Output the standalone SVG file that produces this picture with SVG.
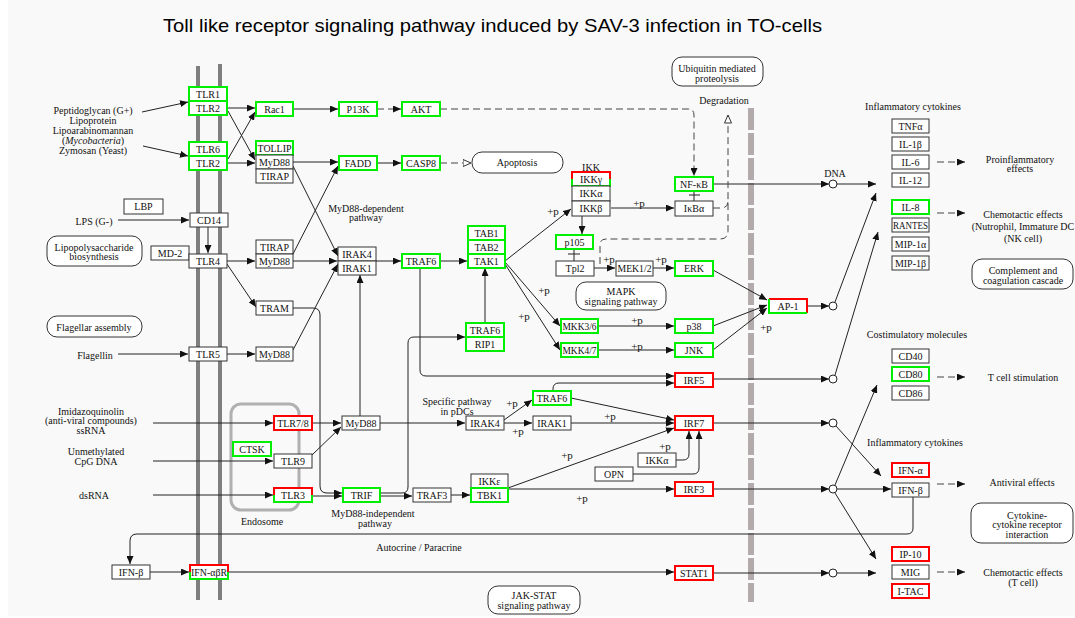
<svg xmlns="http://www.w3.org/2000/svg" width="1075" height="618" viewBox="0 0 1075 618">
<style>
  .t{font-family:"Liberation Serif",serif;font-size:10px;text-anchor:middle;fill:#111}
  .pl{font-family:"Liberation Serif",serif;font-size:11px;text-anchor:middle;fill:#111}
  .title{font-family:"Liberation Sans",Arial,sans-serif;font-size:19px;fill:#000}
  rect.n{fill:#fff;stroke:#333;stroke-width:1}
  rect.g{fill:#fff;stroke:#00ee00;stroke-width:2}
  rect.r{fill:#fff;stroke:#ff0000;stroke-width:2}
  rect.w{fill:#fff;stroke:none}
  .sr{fill:none;stroke:#ff0000;stroke-width:2}
  .sg{fill:none;stroke:#00ee00;stroke-width:2}
  rect.m{fill:#fff;stroke:#333;stroke-width:1}
  .e{fill:none;stroke:#222;stroke-width:1}
  .d{fill:none;stroke:#444;stroke-width:1;stroke-dasharray:7 4}
  .c{fill:#fff;stroke:#222;stroke-width:1}
</style>
<defs>
  <marker id="a" viewBox="0 0 8 7" refX="8" refY="3.5" markerWidth="8" markerHeight="7" markerUnits="userSpaceOnUse" orient="auto">
    <path d="M0,0L8,3.5L0,7z" fill="#111"/>
  </marker>
  <marker id="o" viewBox="0 0 9 8" refX="8.5" refY="4" markerWidth="9" markerHeight="8" markerUnits="userSpaceOnUse" orient="auto">
    <path d="M0.5,0.5L8.5,4L0.5,7.5z" fill="#fff" stroke="#333" stroke-width="1"/>
  </marker>
</defs>

<rect x="0" y="0" width="1075" height="618" fill="#fff"/>
<rect x="8" y="0" width="1067" height="616" fill="#f9f9f9"/>

<text class="title" x="163" y="32" textLength="659" lengthAdjust="spacingAndGlyphs">Toll like receptor signaling pathway induced by SAV-3 infection in TO-cells</text>

<!-- plasma membrane -->
<g id="membrane">
  <line x1="198" y1="66" x2="198" y2="600" stroke="#7f7f7f" stroke-width="4"/>
  <line x1="220" y1="64" x2="220" y2="600" stroke="#7f7f7f" stroke-width="4"/>
</g>
<!-- nuclear envelope -->
<line id="nucleus" x1="751" y1="108" x2="751" y2="602" stroke="#b3abab" stroke-width="6" stroke-dasharray="22 3"/>

<!-- endosome compartment -->
<g id="endosome">
  <rect x="231" y="404" width="68" height="106" rx="10" fill="none" stroke="#b0b0b0" stroke-width="3"/>
  <text class="t" x="262" y="525">Endosome</text>
</g>

<!-- free labels -->
<g id="labels">
  <text class="t" x="93" y="113.5">Peptidoglycan (G+)</text>
  <text class="t" x="93" y="123.5">Lipoprotein</text>
  <text class="t" x="93" y="133.5">Lipoarabinomannan</text>
  <text class="t" x="93" y="143.5">(<tspan font-style="italic">Mycobacteria</tspan>)</text>
  <text class="t" x="93" y="153.5">Zymosan (Yeast)</text>
  <text class="t" x="94" y="225">LPS (G-)</text>
  <text class="t" x="95" y="359">Flagellin</text>
  <text class="t" x="91" y="414.5">Imidazoquinolin</text>
  <text class="t" x="91" y="424">(anti-viral compounds)</text>
  <text class="t" x="91" y="434">ssRNA</text>
  <text class="t" x="96" y="454.5">Unmethylated</text>
  <text class="t" x="96" y="465">CpG DNA</text>
  <text class="t" x="94" y="498.5">dsRNA</text>
  <text class="t" x="366" y="211.5">MyD88-dependent</text>
  <text class="t" x="366" y="221">pathway</text>
  <text class="t" x="373" y="517">MyD88-independent</text>
  <text class="t" x="375" y="527">pathway</text>
  <text class="t" x="457" y="405">Specific pathway</text>
  <text class="t" x="457" y="415">in pDCs</text>
  <text class="t" x="419" y="550.5">Autocrine / Paracrine</text>
  <text class="t" x="591" y="170.5">IKK</text>
  <text class="t" x="835" y="177">DNA</text>
  <text class="t" x="724" y="104">Degradation</text>
  <text class="t" x="913" y="109.5">Inflammatory cytokines</text>
  <text class="t" x="915" y="446">Inflammatory cytokines</text>
  <text class="t" x="917" y="337.5">Costimulatory molecules</text>
  <text class="t" x="1020" y="162.5">Proinflammatory</text>
  <text class="t" x="1020" y="172">effects</text>
  <text class="t" x="1023" y="217.5">Chemotactic effects</text>
  <text class="t" x="1023" y="229.5">(Nutrophil, Immature DC</text>
  <text class="t" x="1023" y="241.5">(NK cell)</text>
  <text class="t" x="1023" y="381">T cell stimulation</text>
  <text class="t" x="1022" y="486">Antiviral effects</text>
  <text class="t" x="1023" y="576">Chemotactic effects</text>
  <text class="t" x="1023" y="586">(T cell)</text>
  <!-- phosphorylation marks -->
  <text class="pl" x="553" y="215">+p</text>
  <text class="pl" x="639" y="207">+p</text>
  <text class="pl" x="609" y="263">+p</text>
  <text class="pl" x="661" y="263">+p</text>
  <text class="pl" x="544" y="294">+p</text>
  <text class="pl" x="524" y="320">+p</text>
  <text class="pl" x="637" y="324">+p</text>
  <text class="pl" x="637" y="350">+p</text>
  <text class="pl" x="766" y="331">+p</text>
  <text class="pl" x="512" y="407">+p</text>
  <text class="pl" x="518" y="435">+p</text>
  <text class="pl" x="610" y="420">+p</text>
  <text class="pl" x="567" y="459">+p</text>
  <text class="pl" x="582" y="502">+p</text>
  <text class="pl" x="665" y="450">+p</text>
</g>

<!-- pathway map links -->
<g id="maps">
  <g id="map-ubiquitin"><rect class="m" x="672" y="57" width="91" height="29" rx="10"/><text class="t" x="717" y="71.5">Ubiquitin mediated</text><text class="t" x="717" y="81.5">proteolysis</text></g>
  <g id="map-apoptosis"><rect class="m" x="472" y="152" width="91" height="21" rx="10"/><text class="t" x="517" y="166">Apoptosis</text></g>
  <g id="map-mapk"><rect class="m" x="576" y="282" width="90" height="28" rx="10"/><text class="t" x="621" y="294.5">MAPK</text><text class="t" x="621" y="304.5">signaling pathway</text></g>
  <g id="map-jakstat"><rect class="m" x="488" y="586" width="92" height="28" rx="10"/><text class="t" x="534" y="598.5">JAK-STAT</text><text class="t" x="534" y="609">signaling pathway</text></g>
  <g id="map-lps"><rect class="m" x="47" y="236" width="95" height="30" rx="10"/><text class="t" x="94" y="251">Lipopolysaccharide</text><text class="t" x="94" y="260">biosynthesis</text></g>
  <g id="map-flagellar"><rect class="m" x="47" y="316" width="95" height="21" rx="10"/><text class="t" x="94" y="330.5">Flagellar assembly</text></g>
  <g id="map-complement"><rect class="m" x="972" y="259" width="101" height="30" rx="10"/><text class="t" x="1023" y="273.5">Complement and</text><text class="t" x="1023" y="283.5">coagulation cascade</text></g>
  <g id="map-cytokine"><rect class="m" x="971" y="503" width="102" height="40" rx="10"/><text class="t" x="1027" y="518.5">Cytokine-</text><text class="t" x="1027" y="528">cytokine receptor</text><text class="t" x="1027" y="537.5">interaction</text></g>
</g>

<!-- connectors -->
<g id="edges">
  <g class="e" marker-end="url(#a)">
    <path d="M142,112L188,102"/>
    <path d="M143,146L188,156"/>
    <path d="M118,220H189"/>
    <path d="M208,227V253"/>
    <path d="M227,108H255"/>
    <path d="M228,111L255,160"/>
    <path d="M227,163H255"/>
    <path d="M228,159L255,112"/>
    <path d="M293,109H338"/>
    <path d="M293,162H338"/>
    <path d="M377,163H401"/>
    <path d="M293,166L338,256"/>
    <path d="M293,254L338,166"/>
    <path d="M227,261H255"/>
    <path d="M293,261H337"/>
    <path d="M227,264L256,307"/>
    <path d="M293,308H313Q320,308 320,315V486Q320,493 327,493H342"/>
    <path d="M118,354H188"/>
    <path d="M227,354H255"/>
    <path d="M293,350L338,264"/>
    <path d="M376,261H401"/>
    <path d="M440,261H467"/>
    <path d="M505,261L571,209"/>
    <path d="M505,262L560,326"/>
    <path d="M505,264L560,350"/>
    <path d="M611,208H674"/>
    <path d="M582,216V234"/>
    <path d="M594,268H615"/>
    <path d="M653,268H674"/>
    <path d="M598,326H674"/>
    <path d="M598,350H674"/>
    <path d="M713,270L767,300"/>
    <path d="M713,326L767,305"/>
    <path d="M713,350L767,308"/>
    <path d="M485,323V268"/>
    <path d="M420,268V370Q420,376 426,376H674"/>
    <path d="M380,493H402Q408,493 408,487V343Q408,337 414,337H465"/>
    <path d="M380,496H412"/>
    <path d="M451,495H470"/>
    <path d="M508,489H674"/>
    <path d="M508,488L674,428"/>
    <path d="M153,423H273"/>
    <path d="M153,461H273"/>
    <path d="M153,495H273"/>
    <path d="M312,423H341"/>
    <path d="M312,455L341,427"/>
    <path d="M312,496H342"/>
    <path d="M360,416V275"/>
    <path d="M380,423H465"/>
    <path d="M504,420L532,400"/>
    <path d="M504,423H532"/>
    <path d="M571,423H674"/>
    <path d="M571,398L674,420"/>
    <path d="M553,391V389Q553,383 559,383H674"/>
    <path d="M676,460H683Q689,460 689,454V431"/>
    <path d="M633,474H693Q699,474 699,468V431"/>
    <path d="M713,184H829"/>
    <path d="M837,184H876"/>
    <path d="M807,306H829"/>
    <path d="M835,302L876,193"/>
    <path d="M713,379H829"/>
    <path d="M835,375L878,232"/>
    <path d="M713,423H829"/>
    <path d="M836,426L881,476"/>
    <path d="M713,489H829"/>
    <path d="M837,489H891"/>
    <path d="M835,493L876,559"/>
    <path d="M835,485L877,385"/>
    <path d="M228,572H674"/>
    <path d="M713,573H829"/>
    <path d="M837,573H876"/>
    <path d="M913,497V528Q913,534 907,534H137Q130,534 130,541V564"/>
    <path d="M150,572H189"/>
  </g>
  <g class="d" marker-end="url(#a)">
    <path d="M377,109H401"/>
    <path d="M440,109H688Q694,109 694,115V176"/>
    <path d="M937,162H965"/>
    <path d="M937,213H965"/>
    <path d="M937,377H965"/>
    <path d="M937,484H965"/>
    <path d="M937,572H965"/>
  </g>
  <g class="d" marker-end="url(#o)">
    <path d="M440,163H471"/>
    <path d="M600,264V245Q600,239 606,239H720Q728,239 728,231V115"/>
  </g>
  <path class="d" d="M713,208H721Q728,208 728,201"/>
  <!-- binding / inhibition bars -->
  <path class="e" d="M694,191V201M689,195H700"/>
  <path class="e" d="M574,249V261M568,254H580"/>
  <!-- transcription points -->
  <circle class="c" cx="833" cy="184" r="4"/>
  <circle class="c" cx="833" cy="306" r="4"/>
  <circle class="c" cx="833" cy="379" r="4"/>
  <circle class="c" cx="833" cy="423" r="4"/>
  <circle class="c" cx="833" cy="489" r="4"/>
  <circle class="c" cx="833" cy="573" r="4"/>
</g>

<!-- gene product nodes -->
<g id="nodes">
  <g id="tlr1"><rect class="g" x="189" y="87" width="38" height="14"/><text class="t" x="208" y="97.5">TLR1</text></g>
  <g id="tlr2a"><rect class="g" x="189" y="101" width="38" height="14"/><text class="t" x="208" y="111.5">TLR2</text></g>
  <g id="tlr6"><rect class="g" x="189" y="142" width="38" height="14"/><text class="t" x="208" y="152.5">TLR6</text></g>
  <g id="tlr2b"><rect class="g" x="189" y="156" width="38" height="14"/><text class="t" x="208" y="166.5">TLR2</text></g>
  <g id="cd14"><rect class="n" x="190" y="213" width="38" height="14"/><text class="t" x="209" y="223.5">CD14</text></g>
  <g id="lbp"><rect class="n" x="124" y="199" width="39" height="15"/><text class="t" x="143.5" y="210">LBP</text></g>
  <g id="md2"><rect class="n" x="151" y="246" width="38" height="14"/><text class="t" x="170" y="256.5">MD-2</text></g>
  <g id="tlr4"><rect class="n" x="189" y="254" width="38" height="14"/><text class="t" x="208" y="264.5">TLR4</text></g>
  <g id="tlr5"><rect class="n" x="189" y="347" width="38" height="14"/><text class="t" x="208" y="357.5">TLR5</text></g>
  <g id="rac1"><rect class="g" x="256" y="102" width="37" height="14"/><text class="t" x="274.5" y="112.5">Rac1</text></g>
  <g id="pi3k"><rect class="g" x="339" y="102" width="38" height="14"/><text class="t" x="358" y="112.5">P13K</text></g>
  <g id="akt"><rect class="g" x="402" y="102" width="38" height="14"/><text class="t" x="421" y="112.5">AKT</text></g>
  <g id="tollip"><rect class="g" x="256" y="141" width="37" height="14"/><text class="t" x="274.5" y="151.5" textLength="34" lengthAdjust="spacingAndGlyphs">TOLLIP</text></g>
  <g id="myd88a"><rect class="n" x="256" y="155" width="37" height="14"/><text class="t" x="274.5" y="165.5">MyD88</text></g>
  <g id="tirapa"><rect class="n" x="256" y="169" width="37" height="14"/><text class="t" x="274.5" y="179.5">TIRAP</text></g>
  <g id="fadd"><rect class="g" x="339" y="156" width="38" height="14"/><text class="t" x="358" y="166.5">FADD</text></g>
  <g id="casp8"><rect class="g" x="402" y="156" width="38" height="14"/><text class="t" x="421" y="166.5">CASP8</text></g>
  <g id="tirapb"><rect class="n" x="256" y="240" width="37" height="14"/><text class="t" x="274.5" y="250.5">TIRAP</text></g>
  <g id="myd88b"><rect class="n" x="256" y="254" width="37" height="14"/><text class="t" x="274.5" y="264.5">MyD88</text></g>
  <g id="tram"><rect class="n" x="256" y="301" width="37" height="14"/><text class="t" x="274.5" y="311.5">TRAM</text></g>
  <g id="myd88c"><rect class="n" x="256" y="347" width="37" height="14"/><text class="t" x="274.5" y="357.5">MyD88</text></g>
  <g id="irak4"><rect class="n" x="338" y="247" width="38" height="14"/><text class="t" x="357" y="257.5">IRAK4</text></g>
  <g id="irak1"><rect class="n" x="338" y="261" width="38" height="14"/><text class="t" x="357" y="271.5">IRAK1</text></g>
  <g id="traf6a"><rect class="g" x="402" y="254" width="38" height="14"/><text class="t" x="421" y="264.5">TRAF6</text></g>
  <g id="tab1"><rect class="g" x="468" y="226" width="37" height="14"/><text class="t" x="486.5" y="236.5">TAB1</text></g>
  <g id="tab2"><rect class="g" x="468" y="240" width="37" height="14"/><text class="t" x="486.5" y="250.5">TAB2</text></g>
  <g id="tak1"><rect class="g" x="468" y="254" width="37" height="14"/><text class="t" x="486.5" y="264.5">TAK1</text></g>
  <g id="traf6b"><rect class="g" x="466" y="323" width="38" height="14"/><text class="t" x="485" y="333.5">TRAF6</text></g>
  <g id="rip1"><rect class="g" x="466" y="337" width="38" height="14"/><text class="t" x="485" y="347.5">RIP1</text></g>
  <g id="ikkg"><rect class="w" x="572" y="172" width="38" height="14"/><path class="sr" d="M572,179V172H610V179"/><path class="sg" d="M572,179V186H610V179"/><text class="t" x="591" y="182.5">IKKγ</text></g>
  <g id="ikka"><rect class="n" x="572" y="186" width="38" height="15"/><text class="t" x="591" y="197">IKKα</text></g>
  <g id="ikkb"><rect class="n" x="572" y="201" width="38" height="15"/><text class="t" x="591" y="212">IKKβ</text></g>
  <g id="nfkb"><rect class="g" x="675" y="177" width="38" height="14"/><text class="t" x="694" y="187.5">NF-κB</text></g>
  <g id="ikba"><rect class="n" x="675" y="201" width="38" height="15"/><text class="t" x="694" y="212">IκBα</text></g>
  <g id="p105"><rect class="g" x="556" y="235" width="37" height="14"/><text class="t" x="574.5" y="245.5">p105</text></g>
  <g id="tpl2"><rect class="n" x="556" y="261" width="38" height="15"/><text class="t" x="575" y="272">Tpl2</text></g>
  <g id="mek12"><rect class="n" x="616" y="261" width="37" height="15"/><text class="t" x="634.5" y="272" textLength="34" lengthAdjust="spacingAndGlyphs">MEK1/2</text></g>
  <g id="erk"><rect class="g" x="675" y="261" width="38" height="15"/><text class="t" x="694" y="272">ERK</text></g>
  <g id="mkk36"><rect class="g" x="561" y="319" width="37" height="14"/><text class="t" x="579.5" y="329.5" textLength="34" lengthAdjust="spacingAndGlyphs">MKK3/6</text></g>
  <g id="mkk47"><rect class="g" x="561" y="343" width="37" height="14"/><text class="t" x="579.5" y="353.5" textLength="34" lengthAdjust="spacingAndGlyphs">MKK4/7</text></g>
  <g id="p38"><rect class="g" x="675" y="319" width="38" height="14"/><text class="t" x="694" y="329.5">p38</text></g>
  <g id="jnk"><rect class="g" x="675" y="343" width="38" height="14"/><text class="t" x="694" y="353.5">JNK</text></g>
  <g id="ap1"><rect class="w" x="769" y="299" width="38" height="14"/><path class="sr" d="M769,299H807V313"/><path class="sg" d="M769,299V313H807"/><text class="t" x="788" y="309.5">AP-1</text></g>
  <g id="irf5"><rect class="r" x="675" y="373" width="38" height="14"/><text class="t" x="694" y="383.5">IRF5</text></g>
  <g id="traf6c"><rect class="g" x="533" y="391" width="38" height="14"/><text class="t" x="552" y="401.5">TRAF6</text></g>
  <g id="irak4d"><rect class="n" x="466" y="416" width="38" height="14"/><text class="t" x="485" y="426.5">IRAK4</text></g>
  <g id="irak1d"><rect class="n" x="533" y="416" width="38" height="14"/><text class="t" x="552" y="426.5">IRAK1</text></g>
  <g id="myd88d"><rect class="n" x="342" y="416" width="38" height="14"/><text class="t" x="361" y="426.5">MyD88</text></g>
  <g id="irf7"><rect class="r" x="675" y="416" width="38" height="14"/><text class="t" x="694" y="426.5">IRF7</text></g>
  <g id="ikkae"><rect class="n" x="638" y="453" width="38" height="14"/><text class="t" x="657" y="463.5">IKKα</text></g>
  <g id="opn"><rect class="n" x="595" y="467" width="38" height="14"/><text class="t" x="614" y="477.5">OPN</text></g>
  <g id="irf3"><rect class="r" x="675" y="482" width="38" height="14"/><text class="t" x="694" y="492.5">IRF3</text></g>
  <g id="ikke"><rect class="n" x="471" y="474" width="37" height="14"/><text class="t" x="489.5" y="484.5">IKKε</text></g>
  <g id="tbk1"><rect class="g" x="471" y="488" width="37" height="14"/><text class="t" x="489.5" y="498.5">TBK1</text></g>
  <g id="traf3"><rect class="n" x="413" y="488" width="38" height="14"/><text class="t" x="432" y="498.5">TRAF3</text></g>
  <g id="trif"><rect class="g" x="343" y="488" width="37" height="14"/><text class="t" x="361.5" y="498.5">TRIF</text></g>
  <g id="tlr78"><rect class="r" x="274" y="416" width="38" height="14"/><text class="t" x="293" y="426.5">TLR7/8</text></g>
  <g id="ctsk"><rect class="g" x="233" y="442" width="38" height="14"/><text class="t" x="252" y="452.5">CTSK</text></g>
  <g id="tlr9"><rect class="n" x="274" y="454" width="38" height="14"/><text class="t" x="293" y="464.5">TLR9</text></g>
  <g id="tlr3"><rect class="w" x="274" y="488" width="38" height="14"/><path class="sr" d="M274,495V488H312V495"/><path class="sg" d="M274,495V502H312V495"/><text class="t" x="293" y="498.5">TLR3</text></g>
  <g id="ifnb-out"><rect class="n" x="112" y="565" width="38" height="14"/><text class="t" x="131" y="575.5">IFN-β</text></g>
  <g id="ifnabr"><rect class="w" x="190" y="565" width="38" height="14"/><path class="sr" d="M190,572V565H228V572"/><path class="sg" d="M190,572V579H228V572"/><text class="t" x="209" y="575.5" textLength="36" lengthAdjust="spacingAndGlyphs">IFN-αβR</text></g>
  <g id="stat1"><rect class="r" x="675" y="566" width="38" height="14"/><text class="t" x="694" y="576.5">STAT1</text></g>
  <g id="tnfa"><rect class="n" x="892" y="119" width="37" height="14"/><text class="t" x="910.5" y="129.5">TNFα</text></g>
  <g id="il1b"><rect class="n" x="892" y="137" width="37" height="14"/><text class="t" x="910.5" y="147.5">IL-1β</text></g>
  <g id="il6"><rect class="n" x="892" y="155" width="37" height="14"/><text class="t" x="910.5" y="165.5">IL-6</text></g>
  <g id="il12"><rect class="n" x="892" y="173" width="37" height="14"/><text class="t" x="910.5" y="183.5">IL-12</text></g>
  <g id="il8"><rect class="g" x="892" y="200" width="37" height="14"/><text class="t" x="910.5" y="210.5">IL-8</text></g>
  <g id="rantes"><rect class="n" x="892" y="218" width="37" height="14"/><text class="t" x="910.5" y="228.5" textLength="35" lengthAdjust="spacingAndGlyphs">RANTES</text></g>
  <g id="mip1a"><rect class="n" x="892" y="237" width="37" height="14"/><text class="t" x="910.5" y="247.5">MIP-1α</text></g>
  <g id="mip1b"><rect class="n" x="892" y="256" width="37" height="14"/><text class="t" x="910.5" y="266.5">MIP-1β</text></g>
  <g id="cd40"><rect class="n" x="892" y="349" width="37" height="14"/><text class="t" x="910.5" y="359.5">CD40</text></g>
  <g id="cd80"><rect class="g" x="892" y="367" width="37" height="14"/><text class="t" x="910.5" y="377.5">CD80</text></g>
  <g id="cd86"><rect class="n" x="892" y="386" width="37" height="14"/><text class="t" x="910.5" y="396.5">CD86</text></g>
  <g id="ifna"><rect class="r" x="892" y="463" width="37" height="14"/><text class="t" x="910.5" y="473.5">IFN-α</text></g>
  <g id="ifnb"><rect class="n" x="892" y="483" width="37" height="14"/><text class="t" x="910.5" y="493.5">IFN-β</text></g>
  <g id="ip10"><rect class="r" x="892" y="547" width="37" height="14"/><text class="t" x="910.5" y="557.5">IP-10</text></g>
  <g id="mig"><rect class="n" x="892" y="565" width="37" height="14"/><text class="t" x="910.5" y="575.5">MIG</text></g>
  <g id="itac"><rect class="r" x="892" y="584" width="37" height="14"/><text class="t" x="910.5" y="594.5">I-TAC</text></g>
</g>
</svg>
